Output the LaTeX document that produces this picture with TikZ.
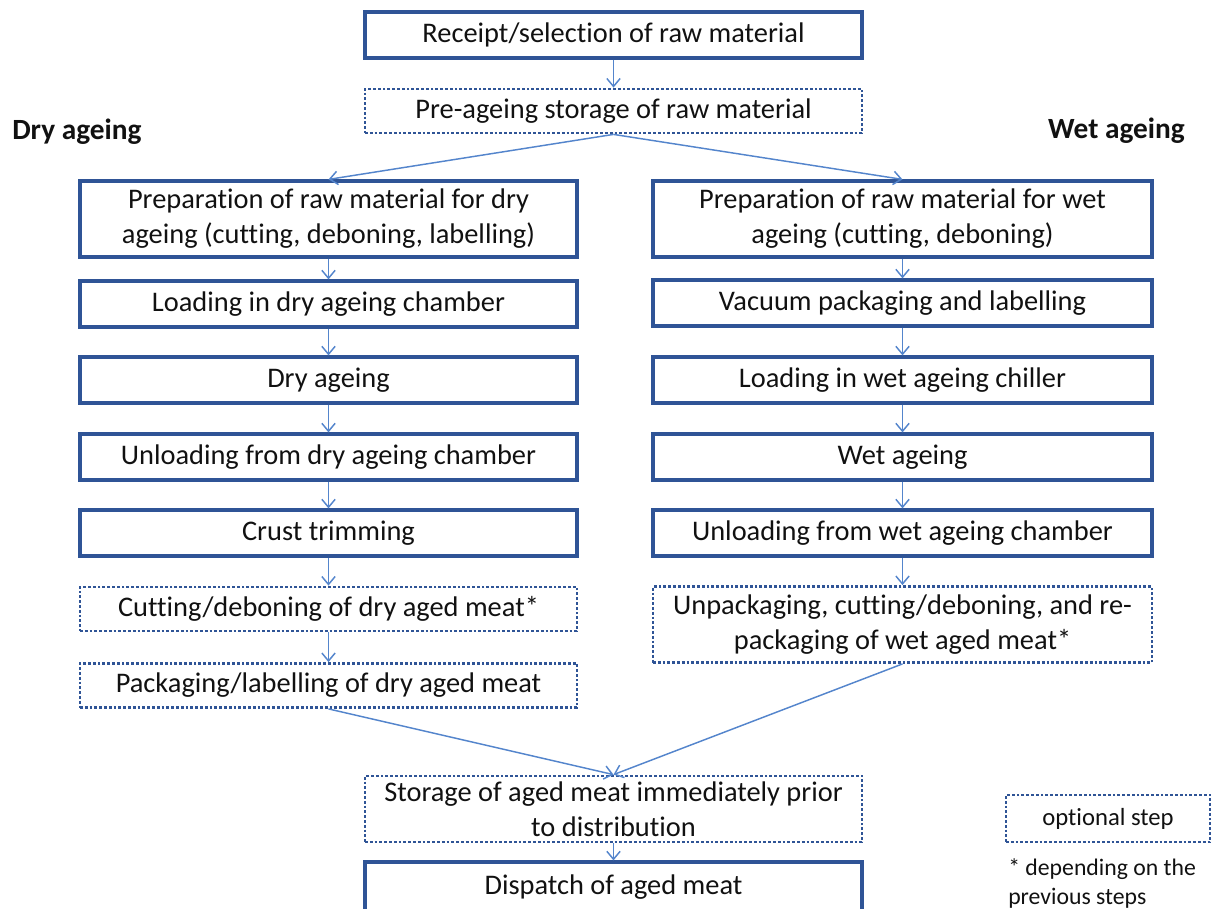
\documentclass[tikz,border=0pt]{standalone}
\usepackage{fontspec}
\setmainfont{Carlito}[Ligatures={NoCommon}, RawFeature={-liga;-clig;-dlig}]
\usetikzlibrary{arrows.meta}
\definecolor{boxblue}{HTML}{2F5496}
\definecolor{linkblue}{HTML}{5485CC}
\definecolor{txt}{HTML}{111111}
\begin{document}
\begin{tikzpicture}[x=0.75pt,y=-0.75pt,
  every node/.style={text=txt},
  base/.style={inner sep=0pt, align=center, font=\fontsize{21.3pt}{26.3pt}\selectfont, minimum width=372.75pt},
  solidbox/.style={base, draw=boxblue, line width=2.4pt, minimum height=34.5pt},
  dotbox/.style={base, draw=boxblue, line width=2.1pt, dash pattern=on 2.1pt off 1.5pt, minimum height=33pt},
  tallbox/.style={minimum height=57pt},
  link/.style={draw=linkblue, line width=1.1pt, -{Straight Barb[length=6pt,width=10pt]}},
  heading/.style={inner sep=0pt, font=\fontsize{22pt}{26pt}\selectfont\bfseries}
]
\useasboundingbox (0,0) rectangle (1212,908);

% top
\node[solidbox] (rec) at (613.5,35) {Receipt/selection of raw material};
\node[dotbox] (pre) at (613.5,111) {Pre-ageing storage of raw material};

\node[heading, anchor=west] (dryh) at (12,132) {Dry ageing};
\node[heading, anchor=east] (weth) at (1185,131) {Wet ageing};

% dry column
\node[solidbox, tallbox] (l1) at (328.5,219) {Preparation of raw material for dry\\ageing (cutting, deboning, labelling)};
\node[solidbox] (l2) at (328.5,304) {Loading in dry ageing chamber};
\node[solidbox] (l3) at (328.5,380) {Dry ageing};
\node[solidbox] (l4) at (328.5,457) {Unloading from dry ageing chamber};
\node[solidbox] (l5) at (328.5,533) {Crust trimming};
\node[dotbox] (l6) at (328.5,609) {Cutting/deboning of dry aged meat*};
\node[dotbox] (l7) at (328.5,685.5) {Packaging/labelling of dry aged meat};

% wet column
\node[solidbox, tallbox, minimum width=374.25pt] (r1) at (902.5,219) {Preparation of raw material for wet\\ageing (cutting, deboning)};
\node[solidbox, minimum width=374.25pt] (r2) at (902.5,303) {Vacuum packaging and labelling};
\node[solidbox, minimum width=374.25pt] (r3) at (902.5,380) {Loading in wet ageing chiller};
\node[solidbox, minimum width=374.25pt] (r4) at (902.5,457) {Wet ageing};
\node[solidbox, minimum width=374.25pt] (r5) at (902.5,533) {Unloading from wet ageing chamber};
\node[dotbox, tallbox, minimum width=374.25pt] (r6) at (902.5,624.5) {Unpackaging, cutting/deboning, and re-\\packaging of wet aged meat*};

% bottom
\node[dotbox, minimum height=49.5pt] (st) at (613.5,809) {Storage of aged meat immediately prior\\to distribution};
\node[solidbox, minimum height=37.5pt] (disp) at (613.5,887) {Dispatch of aged meat};

% legend
\node[draw=boxblue, line width=2.1pt, dash pattern=on 2.1pt off 1.5pt, inner sep=0pt,
      minimum width=153pt, minimum height=35.25pt, font=\fontsize{18.5pt}{22pt}\selectfont] (leg) at (1108,818.5) {optional step};
\node[anchor=north west, inner sep=0pt, align=left, font=\fontsize{17.8pt}{22pt}\selectfont] (note) at (1008,858) {* depending on the\\previous steps};

% connectors
\draw[link] (rec) -- (pre);
\draw[link] (pre.south) -- (l1.north);
\draw[link] (pre.south) -- (r1.north);
\draw[link] (l1) -- (l2);
\draw[link] (l2) -- (l3);
\draw[link] (l3) -- (l4);
\draw[link] (l4) -- (l5);
\draw[link] (l5) -- (l6);
\draw[link] (l6) -- (l7);
\draw[link] (r1) -- (r2);
\draw[link] (r2) -- (r3);
\draw[link] (r3) -- (r4);
\draw[link] (r4) -- (r5);
\draw[link] (r5) -- (r6);
\draw[link] (l7.south) -- (st.north);
\draw[link] (r6.south) -- (st.north);
\draw[link] (st) -- (disp);
\end{tikzpicture}
\end{document}
